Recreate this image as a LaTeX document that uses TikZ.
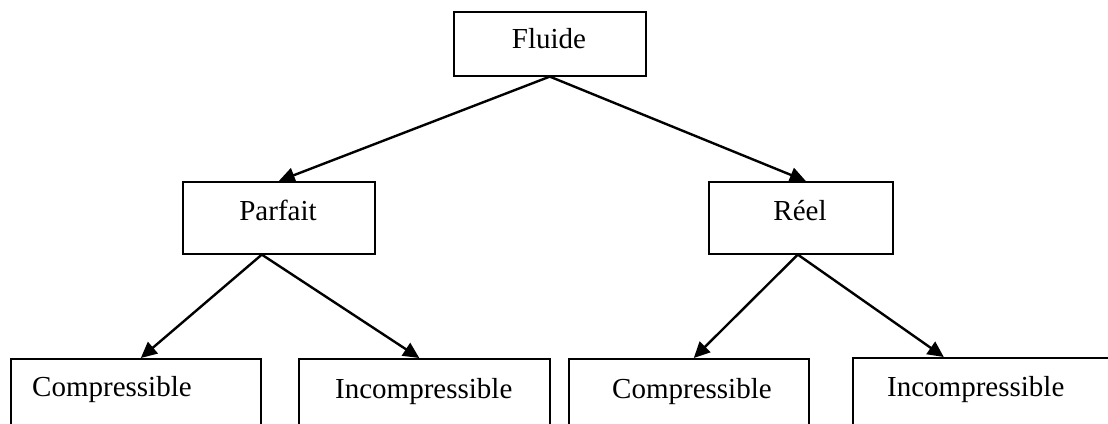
\documentclass[tikz,border=0pt]{standalone}
\usepackage{fontspec}
\setmainfont{Liberation Serif}
\usetikzlibrary{arrows.meta,calc}
\begin{document}
\begin{tikzpicture}[x=1pt,y=-1pt,
  box/.style={draw,line width=1.6pt,inner sep=0pt,anchor=north west},
  lbl/.style={font=\fontsize{29}{34}\selectfont,inner sep=0pt},
  arr/.style={line width=2.4pt,-{Triangle[length=16pt,width=15pt]}}]
\path[use as bounding box, clip] (0,0) rectangle (1108,423);
\fill[white] (0,0) rectangle (1108,423);
% boxes
\node[box,minimum width=192pt,minimum height=64pt] (fluide) at (453,11) {};
\node[box,minimum width=192pt,minimum height=72pt] (parfait) at (182,181) {};
\node[box,minimum width=184pt,minimum height=72pt] (reel) at (708,181) {};
\node[box,minimum width=250pt,minimum height=90pt] (compL) at (10,358) {};
\node[box,minimum width=251pt,minimum height=90pt] (incompL) at (298,358) {};
\node[box,minimum width=240pt,minimum height=90pt] (compR) at (568,358) {};
\node[box,minimum width=280pt,minimum height=90pt] (incompR) at (852,357) {};
% labels
\node[lbl,anchor=base] (tfluide) at (549,48) {Fluide};
\node[lbl,anchor=base] (tparfait) at (278,220) {Parfait};
\node[lbl,anchor=base] (treel) at (800,220) {Réel};
\node[lbl,anchor=base west] (tcompL) at (32,396) {Compressible};
\node[lbl,anchor=base west] (tincompL) at (335,398) {Incompressible};
\node[lbl,anchor=base west] (tcompR) at (612,398) {Compressible};
\node[lbl,anchor=base west] (tincompR) at (887,396) {Incompressible};
% connectors
\draw[arr] (fluide.south) -- (parfait.north);
\draw[arr] (fluide.south) -- ($(reel.north)+(5,0)$);
\draw[arr] ($(parfait.south)+(-17,0)$) -- ($(compL.north)+(5,0)$);
\draw[arr] ($(parfait.south)+(-17,0)$) -- ($(incompL.north)+(-5,0)$);
\draw[arr] ($(reel.south)+(-3,0)$) -- ($(compR.north)+(5,0)$);
\draw[arr] ($(reel.south)+(-3,0)$) -- ($(incompR.north)+(-49,0)$);
\end{tikzpicture}
\end{document}
